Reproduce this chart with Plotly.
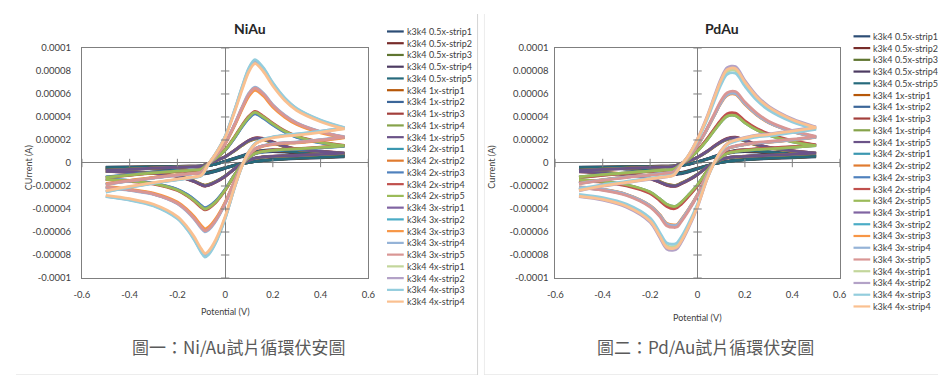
import plotly.graph_objects as go

# ---------------- data (currents in units of 1e-5 A) ----------------
CURRENT_UNIT = 1e-5
E_FWD = [-0.5, -0.4, -0.3, -0.2, -0.15, -0.1, -0.07, -0.04, 0.0, 0.04, 0.07,
         0.1, 0.125, 0.16, 0.2, 0.25, 0.3, 0.4, 0.5]
E_REV = [0.5, 0.4, 0.3, 0.25, 0.2, 0.16, 0.13, 0.1, 0.07, 0.04, 0.0, -0.04,
         -0.07, -0.085, -0.1, -0.13, -0.16, -0.2, -0.3, -0.4, -0.5]

# NiAu
NI_05X_FWD = [-0.4, -0.38, -0.35, -0.32, -0.3, -0.28, -0.22, -0.1, 0.15, 0.4, 0.6, 0.8, 0.95, 1.05, 1.1, 1.05, 0.95, 0.75, 0.6]
NI_05X_REV = [0.6, 0.5, 0.42, 0.37, 0.3, 0.22, 0.15, 0.05, -0.05, -0.2, -0.45, -0.7, -0.85, -0.9, -0.88, -0.8, -0.7, -0.6, -0.5, -0.45, -0.42]
NI_1X_FWD = [-0.65, -0.55, -0.45, -0.37, -0.33, -0.28, -0.03, 0.2, 0.55, 1.1, 1.55, 1.95, 2.15, 2.1, 1.8, 1.45, 1.2, 1.0, 0.85]
NI_1X_REV = [0.85, 0.75, 0.65, 0.62, 0.58, 0.52, 0.44, 0.25, -0.07, -0.5, -1.15, -1.65, -1.92, -1.98, -1.88, -1.6, -1.38, -1.15, -0.9, -0.8, -0.72]
NI_2X_FWD = [-1.25, -1.05, -0.86, -0.71, -0.64, -0.54, -0.05, 0.4, 1.13, 2.25, 3.2, 4.0, 4.4, 4.0, 3.4, 2.75, 2.3, 1.8, 1.5]
NI_2X_REV = [1.5, 1.35, 1.22, 1.18, 1.1, 1.0, 0.86, 0.49, -0.15, -1.03, -2.35, -3.4, -3.9, -4.0, -3.8, -3.25, -2.8, -2.35, -1.8, -1.57, -1.42]
NI_3X_FWD = [-1.85, -1.55, -1.3, -1.05, -0.95, -0.8, -0.07, 0.6, 1.7, 3.35, 4.75, 6.0, 6.5, 6.0, 5.0, 4.1, 3.45, 2.7, 2.25]
NI_3X_REV = [2.25, 2.0, 1.8, 1.75, 1.65, 1.5, 1.28, 0.73, -0.22, -1.55, -3.5, -5.0, -5.75, -5.9, -5.6, -4.8, -4.15, -3.5, -2.7, -2.35, -2.1]
NI_4X_FWD = [-2.5, -2.1, -1.75, -1.45, -1.3, -1.1, -0.1, 0.8, 2.3, 4.6, 6.5, 8.2, 8.9, 8.2, 6.9, 5.6, 4.7, 3.7, 3.05]
NI_4X_REV = [3.05, 2.75, 2.5, 2.4, 2.25, 2.05, 1.75, 1.0, -0.3, -2.1, -4.8, -6.9, -7.9, -8.1, -7.7, -6.6, -5.7, -4.8, -3.7, -3.2, -2.9]

# PdAu
PD_05X_FWD = [-0.4, -0.38, -0.35, -0.32, -0.3, -0.28, -0.22, -0.12, 0.1, 0.35, 0.55, 0.75, 0.9, 1.05, 1.1, 1.05, 0.95, 0.75, 0.6]
PD_05X_REV = [0.6, 0.5, 0.42, 0.37, 0.3, 0.22, 0.15, 0.05, -0.08, -0.25, -0.5, -0.75, -0.9, -0.95, -0.92, -0.82, -0.72, -0.6, -0.5, -0.45, -0.42]
PD_1X_FWD = [-0.65, -0.55, -0.46, -0.38, -0.34, -0.29, -0.05, 0.15, 0.5, 1.0, 1.45, 1.85, 2.1, 2.2, 1.95, 1.6, 1.35, 1.05, 0.85]
PD_1X_REV = [0.85, 0.75, 0.66, 0.63, 0.58, 0.53, 0.47, 0.3, 0.0, -0.37, -1.0, -1.5, -1.8, -1.95, -2.0, -1.9, -1.65, -1.35, -1.0, -0.85, -0.75]
PD_2X_FWD = [-1.25, -1.05, -0.88, -0.72, -0.65, -0.55, -0.1, 0.3, 1.07, 2.05, 2.9, 3.7, 4.2, 4.25, 3.6, 2.95, 2.5, 1.9, 1.55]
PD_2X_REV = [1.55, 1.4, 1.27, 1.22, 1.12, 1.02, 0.9, 0.56, 0.0, -0.72, -1.95, -2.9, -3.55, -3.8, -3.9, -3.7, -3.2, -2.6, -1.95, -1.65, -1.5]
PD_3X_FWD = [-1.8, -1.5, -1.25, -1.05, -0.93, -0.78, -0.15, 0.45, 1.55, 3.0, 4.2, 5.4, 6.05, 6.15, 5.25, 4.3, 3.6, 2.8, 2.3]
PD_3X_REV = [2.3, 2.05, 1.85, 1.78, 1.63, 1.48, 1.3, 0.8, 0.0, -1.05, -2.8, -4.2, -5.1, -5.5, -5.55, -5.4, -4.6, -3.8, -2.8, -2.35, -2.15]
PD_4X_FWD = [-2.4, -2.0, -1.7, -1.4, -1.25, -1.05, -0.2, 0.6, 2.1, 4.0, 5.7, 7.3, 8.2, 8.3, 7.1, 5.8, 4.9, 3.8, 3.1]
PD_4X_REV = [3.1, 2.8, 2.5, 2.4, 2.2, 2.0, 1.75, 1.1, 0.0, -1.4, -3.8, -5.7, -6.9, -7.35, -7.5, -7.4, -6.4, -5.1, -3.8, -3.2, -2.9]

SERIES_NAMES = [
    "k3k4 0.5x-strip1", "k3k4 0.5x-strip2", "k3k4 0.5x-strip3", "k3k4 0.5x-strip4", "k3k4 0.5x-strip5",
    "k3k4 1x-strip1", "k3k4 1x-strip2", "k3k4 1x-strip3", "k3k4 1x-strip4", "k3k4 1x-strip5",
    "k3k4 2x-strip1", "k3k4 2x-strip2", "k3k4 2x-strip3", "k3k4 2x-strip4", "k3k4 2x-strip5",
    "k3k4 3x-strip1", "k3k4 3x-strip2", "k3k4 3x-strip3", "k3k4 3x-strip4", "k3k4 3x-strip5",
    "k3k4 4x-strip1", "k3k4 4x-strip2", "k3k4 4x-strip3", "k3k4 4x-strip4",
]
SERIES_GROUP = ["0.5x"] * 5 + ["1x"] * 5 + ["2x"] * 5 + ["3x"] * 5 + ["4x"] * 4
NI_STRIP_SCALE = [0.9, 0.95, 1.0, 1.05, 1.0,
                  0.97, 1.0, 1.02, 0.98, 1.0,
                  0.98, 1.0, 0.97, 1.02, 1.0,
                  1.0, 0.99, 0.97, 1.015, 1.0,
                  0.99, 1.0, 1.01, 0.97]
PD_STRIP_SCALE = [0.9, 0.95, 1.0, 1.05, 1.0,
                  0.97, 1.0, 1.02, 0.98, 1.0,
                  0.97, 0.99, 1.0, 1.02, 0.97,
                  0.98, 0.99, 0.97, 0.98, 1.01,
                  0.97, 1.01, 0.94, 0.99]
SERIES_COLORS = [
    "#2C4D75", "#772C2A", "#5F7530", "#4D3B62", "#276A7C", "#B65708",
    "#3C6699", "#A33F3C", "#86A34A", "#6B5388", "#3B97B0", "#E07B30",
    "#4F81BD", "#C0504D", "#9BBB59", "#8064A2", "#4BACC6", "#F79646",
    "#95B3D7", "#D99694", "#C3D69B", "#B3A2C7", "#93CDDD", "#FAC090",
]
X_TICKS = [-0.6, -0.4, -0.2, 0, 0.2, 0.4, 0.6]
X_TICK_TEXT = ["-0.6", "-0.4", "-0.2", "0", "0.2", "0.4", "0.6"]
Y_TICKS = [-0.0001, -0.00008, -0.00006, -0.00004, -0.00002, 0, 0.00002, 0.00004, 0.00006, 0.00008, 0.0001]
Y_TICK_TEXT = ["-0.0001", "-0.00008", "-0.00006", "-0.00004", "-0.00002", "0",
               "0.00002", "0.00004", "0.00006", "0.00008", "0.0001"]

NI_CURVES = {"0.5x": (NI_05X_FWD, NI_05X_REV), "1x": (NI_1X_FWD, NI_1X_REV),
             "2x": (NI_2X_FWD, NI_2X_REV), "3x": (NI_3X_FWD, NI_3X_REV),
             "4x": (NI_4X_FWD, NI_4X_REV)}
PD_CURVES = {"0.5x": (PD_05X_FWD, PD_05X_REV), "1x": (PD_1X_FWD, PD_1X_REV),
             "2x": (PD_2X_FWD, PD_2X_REV), "3x": (PD_3X_FWD, PD_3X_REV),
             "4x": (PD_4X_FWD, PD_4X_REV)}

# ---------------- layout geometry (pixels) ----------------
W, H = 946, 375
FONT = "Lato"
TXT = "#404040"
AXC = "#7f7f7f"


def px(x):
    return x / W


def py(y):
    return 1 - y / H


PANELS = [
    dict(curves=NI_CURVES, scale=NI_STRIP_SCALE, xa="x", ya="y", l=67, r=358,
         title="NiAu", title_x=238, ytitle="CUrrent (A)", ytitle_x=13,
         xtitle_y=306, leg_line=377, leg_y0=18, caption="圖一：Ni/Au試片循環伏安圖",
         cap_x=226, ticklen=8),
    dict(curves=PD_CURVES, scale=PD_STRIP_SCALE, xa="x2", ya="y2", l=548, r=837,
         title="PdAu", title_x=717, ytitle="Current (A)", ytitle_x=483,
         xtitle_y=313, leg_line=851, leg_y0=23, caption="圖二：Pd/Au試片循環伏安圖",
         cap_x=701, ticklen=4),
]
TOP, BOTTOM = 35, 272
ROW = 12.1

fig = go.Figure()
shapes = []
annotations = []

for p in PANELS:
    for i, name in enumerate(SERIES_NAMES):
        fwd, rev = p["curves"][SERIES_GROUP[i]]
        s = p["scale"][i]
        fig.add_trace(go.Scatter(
            x=E_FWD + E_REV,
            y=[v * s * CURRENT_UNIT for v in fwd + rev],
            mode="lines", name=name, showlegend=False,
            line=dict(color=SERIES_COLORS[i], width=2.8, shape="spline", smoothing=0.9),
            xaxis=p["xa"], yaxis=p["ya"], hoverinfo="skip"))
    # tick marks on the zero-crossing axes
    fig.add_trace(go.Scatter(
        x=[0] * len(Y_TICKS), y=Y_TICKS, mode="markers", showlegend=False,
        marker=dict(symbol="line-ew", size=6, line=dict(color=AXC, width=1)),
        xaxis=p["xa"], yaxis=p["ya"], hoverinfo="skip"))
    fig.add_trace(go.Scatter(
        x=X_TICKS, y=[0] * len(X_TICKS), mode="markers", showlegend=False,
        marker=dict(symbol="line-ns", size=6, line=dict(color=AXC, width=1)),
        xaxis=p["xa"], yaxis=p["ya"], hoverinfo="skip"))

    # manual legend
    for i, name in enumerate(SERIES_NAMES):
        yy = p["leg_y0"] + i * ROW
        shapes.append(dict(type="line", xref="paper", yref="paper",
                           x0=px(p["leg_line"]), x1=px(p["leg_line"] + 17),
                           y0=py(yy), y1=py(yy),
                           line=dict(color=SERIES_COLORS[i], width=2.2)))
        annotations.append(dict(text=name, xref="paper", yref="paper",
                                x=px(p["leg_line"] + 18), y=py(yy),
                                xanchor="left", yanchor="middle", showarrow=False,
                                font=dict(family=FONT, size=9, color=TXT)))
    annotations.append(dict(text="<b>%s</b>" % p["title"], xref="paper", yref="paper",
                            x=px(p["title_x"]), y=py(15), xanchor="center", yanchor="middle",
                            showarrow=False, font=dict(family=FONT, size=14, color="#262626")))
    annotations.append(dict(text=p["ytitle"], xref="paper", yref="paper", textangle=-90,
                            x=px(p["ytitle_x"]), y=py(158), xanchor="center", yanchor="middle",
                            showarrow=False, font=dict(family=FONT, size=9, color=TXT)))
    annotations.append(dict(text="Potential (V)", xref="paper", yref="paper",
                            x=px((p["l"] + p["r"]) / 2), y=py(p["xtitle_y"]),
                            xanchor="center", yanchor="middle",
                            showarrow=False, font=dict(family=FONT, size=9, color=TXT)))
    annotations.append(dict(text=p["caption"], xref="paper", yref="paper",
                            x=px(p["cap_x"]), y=py(343), xanchor="center", yanchor="middle",
                            showarrow=False,
                            font=dict(family="Noto Sans CJK TC", size=17, color="#5a5a5a")))

    axis_common = dict(showgrid=False, showline=True, mirror=True, linecolor=AXC,
                       linewidth=1, zeroline=True, zerolinecolor=AXC, zerolinewidth=1.2,
                       ticks="outside", tickcolor="rgba(0,0,0,0)",
                       tickfont=dict(family=FONT, size=9.5, color=TXT), fixedrange=True)
    xkey = "xaxis" if p["xa"] == "x" else "xaxis2"
    ykey = "yaxis" if p["ya"] == "y" else "yaxis2"
    fig.update_layout({
        xkey: dict(axis_common, domain=[px(p["l"]), px(p["r"])], range=[-0.6, 0.6],
                   tickvals=X_TICKS, ticktext=X_TICK_TEXT, ticklen=8,
                   anchor=p["ya"]),
        ykey: dict(axis_common, domain=[py(BOTTOM), py(TOP)], range=[-0.0001, 0.0001],
                   tickvals=Y_TICKS, ticktext=Y_TICK_TEXT, ticklen=p["ticklen"],
                   anchor=p["xa"]),
    })

# panel frames
shapes += [
    dict(type="line", xref="paper", yref="paper", x0=px(469), x1=px(469), y0=py(373), y1=py(0),
         line=dict(color="#d4d4d4", width=1)),
    dict(type="line", xref="paper", yref="paper", x0=px(476), x1=px(476), y0=py(373), y1=py(0),
         line=dict(color="#ececec", width=1)),
    dict(type="line", xref="paper", yref="paper", x0=0, x1=px(469), y0=py(372), y1=py(372),
         line=dict(color="#d4d4d4", width=1)),
    dict(type="line", xref="paper", yref="paper", x0=px(476), x1=1, y0=py(372), y1=py(372),
         line=dict(color="#d4d4d4", width=1)),
]

fig.update_layout(width=W, height=H, margin=dict(l=0, r=0, t=0, b=0),
                  paper_bgcolor="white", plot_bgcolor="white",
                  shapes=shapes, annotations=annotations, showlegend=False)

fig.write_html("out.html")
